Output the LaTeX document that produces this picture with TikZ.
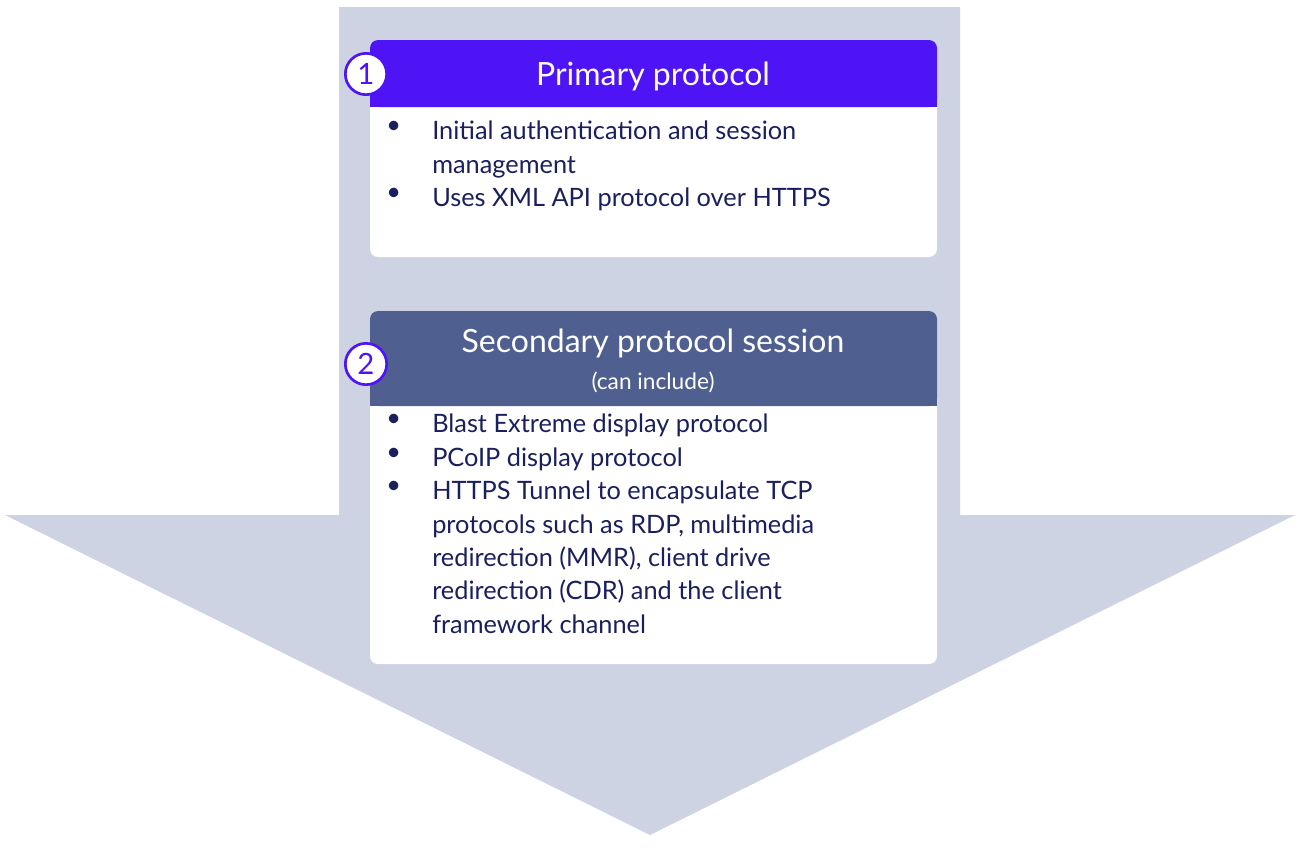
\documentclass[tikz,border=0pt]{standalone}
\usepackage{fontspec}
\setmainfont{Lato}
\definecolor{arr}{HTML}{CDD3E3}
\definecolor{hd1}{HTML}{4F14F5}
\definecolor{hd2}{HTML}{4F5F8F}
\definecolor{txt}{HTML}{1A1F5E}
\begin{document}
\begin{tikzpicture}[x=0.75pt,y=-0.75pt,
  body/.style={anchor=north west,align=left,text=txt,font=\fontsize{19}{25}\selectfont,inner sep=0},
  bul/.style={anchor=north west,text=txt,font=\fontsize{19}{25}\selectfont,inner sep=0},
  num/.style={circle,draw=hd1,line width=2pt,fill=white,minimum size=31pt,inner sep=0,text=hd1,font=\fontsize{22}{26}\selectfont},
  ttl/.style={text=white,align=center,inner sep=0}]
\useasboundingbox (0,0) rectangle (1300,847);
\fill[arr] (339,7) -- (960,7) -- (960,515) -- (1295,515) -- (650,835) -- (5,515) -- (339,515) -- cycle;
% box 1
\fill[white,rounded corners=6pt] (370,40) rectangle (937,257);
\fill[hd1,rounded corners=6pt] (370,40) rectangle (937,107);
\fill[hd1] (370,80) rectangle (937,107);
\node[ttl,font=\fontsize{24}{28}\selectfont] (t1) at (653,76) {Primary protocol};
\node[num] (n1) at (366,74) {1};
\node[bul] (b11) at (386,121) {•};
\node[body] (i11) at (432,121) {Initial authentication and session\\management};
\node[bul] (b12) at (386,188) {•};
\node[body] (i12) at (432,188) {Uses XML API protocol over HTTPS};
% box 2
\fill[white,rounded corners=6pt] (370,311) rectangle (937,664);
\fill[hd2,rounded corners=6pt] (370,311) rectangle (937,406);
\fill[hd2] (370,360) rectangle (937,406);
\node[ttl,font=\fontsize{24}{28}\selectfont] (t2) at (653,343) {Secondary protocol session};
\node[ttl,font=\fontsize{17}{20}\selectfont] (t2b) at (653,382) {(can include)};
\node[num] (n2) at (366,364) {2};
\node[bul] (b21) at (386,414) {•};
\node[body] (i21) at (432,414) {Blast Extreme display protocol};
\node[bul] (b22) at (386,448) {•};
\node[body] (i22) at (432,448) {PCoIP display protocol};
\node[bul] (b23) at (386,481) {•};
\node[body] (i23) at (432,481) {HTTPS Tunnel to encapsulate TCP\\protocols such as RDP, multimedia\\redirection (MMR), client drive\\redirection (CDR) and the client\\framework channel};
\end{tikzpicture}
\end{document}
